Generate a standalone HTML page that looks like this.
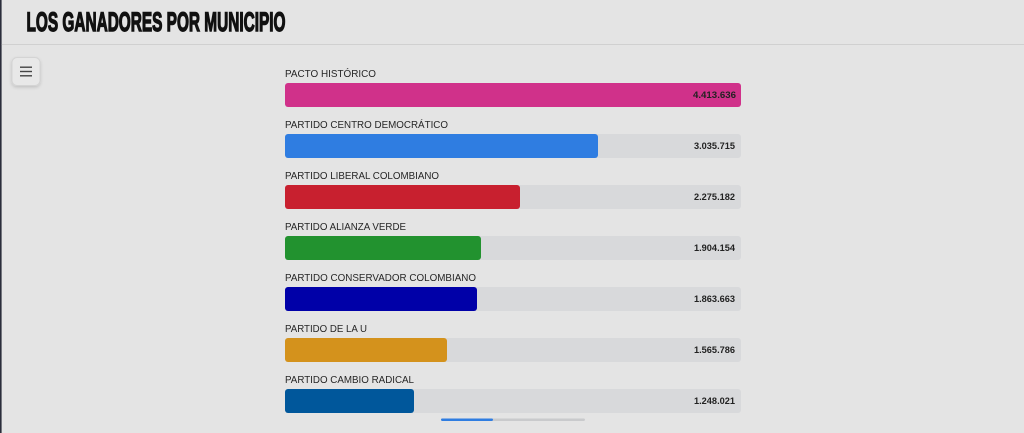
<!DOCTYPE html>
<html>
<head>
<meta charset="utf-8">
<style>
  html, body { margin:0; padding:0; width:1024px; height:433px; overflow:hidden; background:#e4e4e4; }
  svg { display:block; }
  .lbl { font-family:"Liberation Sans", sans-serif; font-size:10.5px; fill:#262626; }
  .val { font-family:"Liberation Sans", sans-serif; font-size:9.3px; font-weight:bold; fill:#222; }
  .title { font-family:"Liberation Sans", sans-serif; font-size:26.5px; font-weight:bold; fill:#111; stroke:#111; stroke-width:1.4px; }
</style>
</head>
<body>
<svg width="1024" height="433" viewBox="0 0 1024 433" xmlns="http://www.w3.org/2000/svg">
  <rect x="0" y="0" width="1024" height="433" fill="#e4e4e4"/>
  <rect x="0" y="0" width="1.6" height="433" fill="#2b2d3b"/>
  <text class="title" x="26.5" y="31" textLength="259" lengthAdjust="spacingAndGlyphs">LOS GANADORES POR MUNICIPIO</text>
  <rect x="1.6" y="44" width="1022.4" height="1" fill="#d0d0d0"/>

  <defs>
    <filter id="sh" x="-30%" y="-30%" width="160%" height="170%">
      <feDropShadow dx="0" dy="1.5" stdDeviation="1.5" flood-color="#000" flood-opacity="0.15"/>
    </filter>
  </defs>
  <rect x="12" y="57.5" width="28" height="28" rx="5" fill="#e8e8e8" stroke="#d4d4d4" stroke-width="1" filter="url(#sh)"/>
  <rect x="20" y="66.5" width="12" height="1.4" fill="#444"/>
  <rect x="20" y="70.8" width="12" height="1.4" fill="#444"/>
  <rect x="20" y="75.1" width="12" height="1.4" fill="#444"/>

  <text class="lbl" x="285" y="77" textLength="91" lengthAdjust="spacingAndGlyphs">PACTO HISTÓRICO</text>
  <rect x="285" y="83" width="456" height="24" rx="3" fill="#d0318a"/>
  <text class="val" x="693" y="98" textLength="43" lengthAdjust="spacingAndGlyphs">4.413.636</text>

  <text class="lbl" x="285" y="128" textLength="163" lengthAdjust="spacingAndGlyphs">PARTIDO CENTRO DEMOCRÁTICO</text>
  <rect x="285" y="134" width="456" height="24" rx="3" fill="#d8d9db"/>
  <rect x="285" y="134" width="313" height="24" rx="3" fill="#2f7de1"/>
  <text class="val" x="694" y="149" textLength="41" lengthAdjust="spacingAndGlyphs">3.035.715</text>

  <text class="lbl" x="285" y="179" textLength="154" lengthAdjust="spacingAndGlyphs">PARTIDO LIBERAL COLOMBIANO</text>
  <rect x="285" y="185" width="456" height="24" rx="3" fill="#d8d9db"/>
  <rect x="285" y="185" width="235" height="24" rx="3" fill="#c8202f"/>
  <text class="val" x="694" y="200" textLength="41" lengthAdjust="spacingAndGlyphs">2.275.182</text>

  <text class="lbl" x="285" y="230" textLength="121" lengthAdjust="spacingAndGlyphs">PARTIDO ALIANZA VERDE</text>
  <rect x="285" y="236" width="456" height="24" rx="3" fill="#d8d9db"/>
  <rect x="285" y="236" width="196" height="24" rx="3" fill="#22922f"/>
  <text class="val" x="694" y="251" textLength="41" lengthAdjust="spacingAndGlyphs">1.904.154</text>

  <text class="lbl" x="285" y="281" textLength="191" lengthAdjust="spacingAndGlyphs">PARTIDO CONSERVADOR COLOMBIANO</text>
  <rect x="285" y="287" width="456" height="24" rx="3" fill="#d8d9db"/>
  <rect x="285" y="287" width="192" height="24" rx="3" fill="#0000a8"/>
  <text class="val" x="694" y="302" textLength="41" lengthAdjust="spacingAndGlyphs">1.863.663</text>

  <text class="lbl" x="285" y="332" textLength="82" lengthAdjust="spacingAndGlyphs">PARTIDO DE LA U</text>
  <rect x="285" y="338" width="456" height="24" rx="3" fill="#d8d9db"/>
  <rect x="285" y="338" width="162" height="24" rx="3" fill="#d4921c"/>
  <text class="val" x="694" y="353" textLength="41" lengthAdjust="spacingAndGlyphs">1.565.786</text>

  <text class="lbl" x="285" y="383" textLength="129" lengthAdjust="spacingAndGlyphs">PARTIDO CAMBIO RADICAL</text>
  <rect x="285" y="389" width="456" height="24" rx="3" fill="#d8d9db"/>
  <rect x="285" y="389" width="129" height="24" rx="3" fill="#00579b"/>
  <text class="val" x="694" y="404" textLength="41" lengthAdjust="spacingAndGlyphs">1.248.021</text>

  <rect x="441" y="418.5" width="144" height="2.5" rx="1.2" fill="#c9cacc"/>
  <rect x="441" y="418.5" width="52" height="2.5" rx="1.2" fill="#2f7de1"/>
</svg>
</body>
</html>
